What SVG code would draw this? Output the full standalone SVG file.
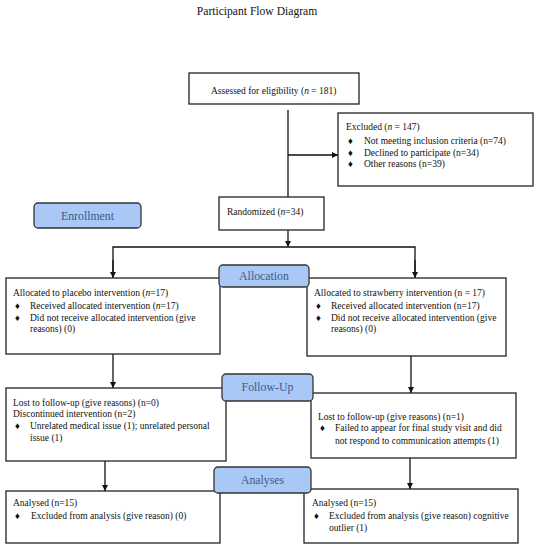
<svg xmlns="http://www.w3.org/2000/svg" width="550" height="548" viewBox="0 0 550 548">
<style>
text{font-family:"Liberation Serif","Times New Roman",serif;font-size:9.5px;fill:#111}
.box{fill:#fff;stroke:#222;stroke-width:1.3}
.lab{fill:#a9c8f5;stroke:#333;stroke-width:1.3}
.lt{font-family:"Liberation Serif","Times New Roman",serif;font-size:11.8px;fill:#3e5a8a;text-anchor:middle}
.ln{stroke:#111;stroke-width:1.3;fill:none}
.title{font-size:11.6px;text-anchor:middle}
</style>
<defs>
<marker id="ah" viewBox="0 0 10 10" refX="10" refY="5" markerWidth="6" markerHeight="6" markerUnits="userSpaceOnUse" orient="auto">
<path d="M0,0L10,5L0,10z" fill="#111"/>
</marker>
</defs>
<rect width="550" height="548" fill="#fff"/>
<text class="title" x="257" y="15">Participant Flow Diagram</text>

<g id="connectors">
<line class="ln" x1="288" y1="110" x2="288" y2="197"/>
<line class="ln" x1="288" y1="155" x2="338" y2="155" marker-end="url(#ah)"/>
<line class="ln" x1="288" y1="230" x2="288" y2="247" marker-end="url(#ah)"/>
<polyline class="ln" points="113,277 113,247 415,247 415,277"/>
<line class="ln" x1="113" y1="260" x2="113" y2="278" marker-end="url(#ah)"/>
<line class="ln" x1="415" y1="260" x2="415" y2="278" marker-end="url(#ah)"/>
<line class="ln" x1="113" y1="354" x2="113" y2="388" marker-end="url(#ah)"/>
<line class="ln" x1="411" y1="356" x2="411" y2="393" marker-end="url(#ah)"/>
<line class="ln" x1="105" y1="461" x2="105" y2="491" marker-end="url(#ah)"/>
<line class="ln" x1="410" y1="458" x2="410" y2="489" marker-end="url(#ah)"/>
</g>

<g id="assessed">
<rect class="box" x="189" y="73" width="170" height="31"/>
<text x="211" y="94">Assessed for eligibility (<tspan font-style="italic">n</tspan> = 181)</text>
</g>

<g id="excluded">
<rect class="box" x="338" y="113" width="195" height="73"/>
<text x="346" y="130">Excluded (<tspan font-style="italic">n</tspan> = 147)</text>
<text x="348" y="144">♦</text><text x="364" y="144">Not meeting inclusion criteria (n=74)</text>
<text x="348" y="156">♦</text><text x="364" y="156">Declined to participate (n=34)</text>
<text x="348" y="167">♦</text><text x="364" y="167">Other reasons (n=39)</text>
</g>

<g id="enrollment">
<rect class="lab" x="34" y="203" width="107" height="25" rx="4"/>
<text class="lt" x="87.5" y="220">Enrollment</text>
</g>

<g id="randomized">
<rect class="box" x="219" y="197" width="105" height="33"/>
<text x="227" y="215">Randomized (<tspan font-style="italic">n</tspan>=34)</text>
</g>

<g id="alloc-placebo">
<rect class="box" x="6" y="278" width="214" height="76"/>
<text x="13" y="296">Allocated to placebo intervention (<tspan font-style="italic">n</tspan>=17)</text>
<text x="15" y="309">♦</text><text x="30" y="309">Received allocated intervention (<tspan font-style="italic">n</tspan>=17)</text>
<text x="15" y="321">♦</text><text x="30" y="321">Did not receive allocated intervention (give</text>
<text x="30" y="332">reasons) (0)</text>
</g>

<g id="alloc-strawberry">
<rect class="box" x="307" y="278" width="199" height="78"/>
<text x="314" y="296">Allocated to strawberry intervention (n = 17)</text>
<text x="316" y="309">♦</text><text x="331" y="309">Received allocated intervention (n=17)</text>
<text x="316" y="321">♦</text><text x="331" y="321">Did not receive allocated intervention (give</text>
<text x="331" y="332">reasons) (0)</text>
</g>

<g id="allocation">
<rect class="lab" x="219" y="265" width="90" height="22" rx="4"/>
<text class="lt" x="264" y="280">Allocation</text>
</g>

<g id="follow-placebo">
<rect class="box" x="6" y="388" width="220" height="73"/>
<text x="13" y="406">Lost to follow-up (give reasons) (n=0)</text>
<text x="13" y="417">Discontinued intervention (n=2)</text>
<text x="15" y="429">♦</text><text x="30" y="429">Unrelated medical issue (1); unrelated personal</text>
<text x="30" y="441">issue (1)</text>
</g>

<g id="follow-strawberry">
<rect class="box" x="311" y="393" width="205" height="65"/>
<text x="318" y="420">Lost to follow-up (give reasons) (n=1)</text>
<text x="320" y="431">♦</text><text x="335" y="431">Failed to appear for final study visit and did</text>
<text x="335" y="444">not respond to communication attempts (1)</text>
</g>

<g id="followup">
<rect class="lab" x="222" y="374" width="91" height="27" rx="4"/>
<text class="lt" x="267.5" y="391">Follow-Up</text>
</g>

<g id="analysed-placebo">
<rect class="box" x="6" y="491" width="214" height="52"/>
<text x="13" y="506">Analysed (n=15)</text>
<text x="15" y="519">♦</text><text x="31" y="519">Excluded from analysis (give reason) (0)</text>
</g>

<g id="analysed-strawberry">
<rect class="box" x="304" y="489" width="214" height="54"/>
<text x="312" y="506">Analysed (n=15)</text>
<text x="314" y="519">♦</text><text x="329" y="519">Excluded from analysis (give reason) cognitive</text>
<text x="329" y="531">outlier (1)</text>
</g>

<g id="analyses">
<rect class="lab" x="214" y="467" width="97" height="26" rx="4"/>
<text class="lt" x="262.5" y="484">Analyses</text>
</g>
</svg>
